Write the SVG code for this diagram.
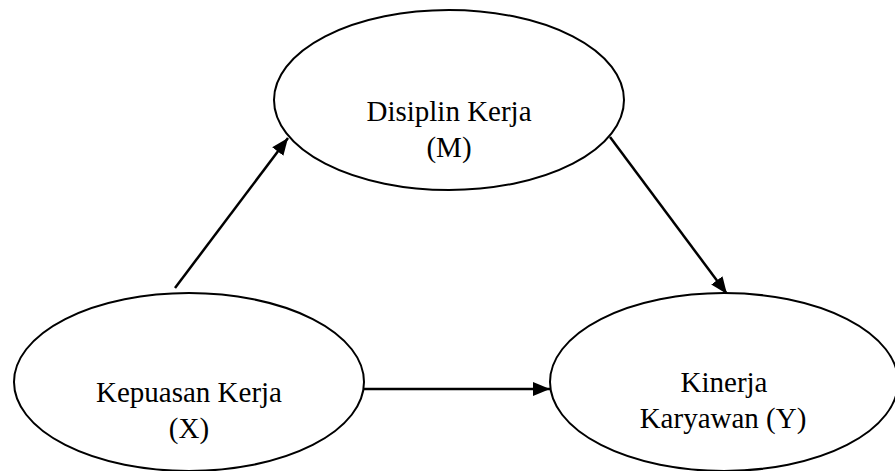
<svg xmlns="http://www.w3.org/2000/svg" width="895" height="471" viewBox="0 0 895 471">
<defs>
<style>
.node{fill:#fff;stroke:#000;stroke-width:2}
.lbl{font-family:"Liberation Serif","Times New Roman",serif;font-size:29px;fill:#000;text-anchor:middle}
.edge{stroke:#000;stroke-width:2.5;fill:none}
</style>
<marker id="arr" markerUnits="userSpaceOnUse" markerWidth="20" markerHeight="16" refX="17" refY="8" orient="auto">
<path d="M0,1 L17,8 L0,15 Z" fill="#000"/>
</marker>
</defs>
<rect width="895" height="471" fill="#fff"/>
<g id="connectors">
<line class="edge" x1="175" y1="288" x2="288" y2="138" marker-end="url(#arr)"/>
<line class="edge" x1="610" y1="137" x2="727" y2="294" marker-end="url(#arr)"/>
<line class="edge" x1="364" y1="389" x2="550" y2="389" marker-end="url(#arr)"/>
</g>
<g id="node-m">
<ellipse class="node" cx="449" cy="100" rx="175" ry="90"/>
<text class="lbl" x="449" y="121">Disiplin Kerja</text>
<text class="lbl" x="449" y="157">(M)</text>
</g>
<g id="node-x">
<ellipse class="node" cx="189" cy="382" rx="175" ry="89"/>
<text class="lbl" x="189" y="402">Kepuasan Kerja</text>
<text class="lbl" x="189" y="438">(X)</text>
</g>
<g id="node-y">
<ellipse class="node" cx="724" cy="382" rx="174" ry="89"/>
<text class="lbl" x="724" y="392">Kinerja</text>
<text class="lbl" x="723" y="428">Karyawan (Y)</text>
</g>
</svg>
